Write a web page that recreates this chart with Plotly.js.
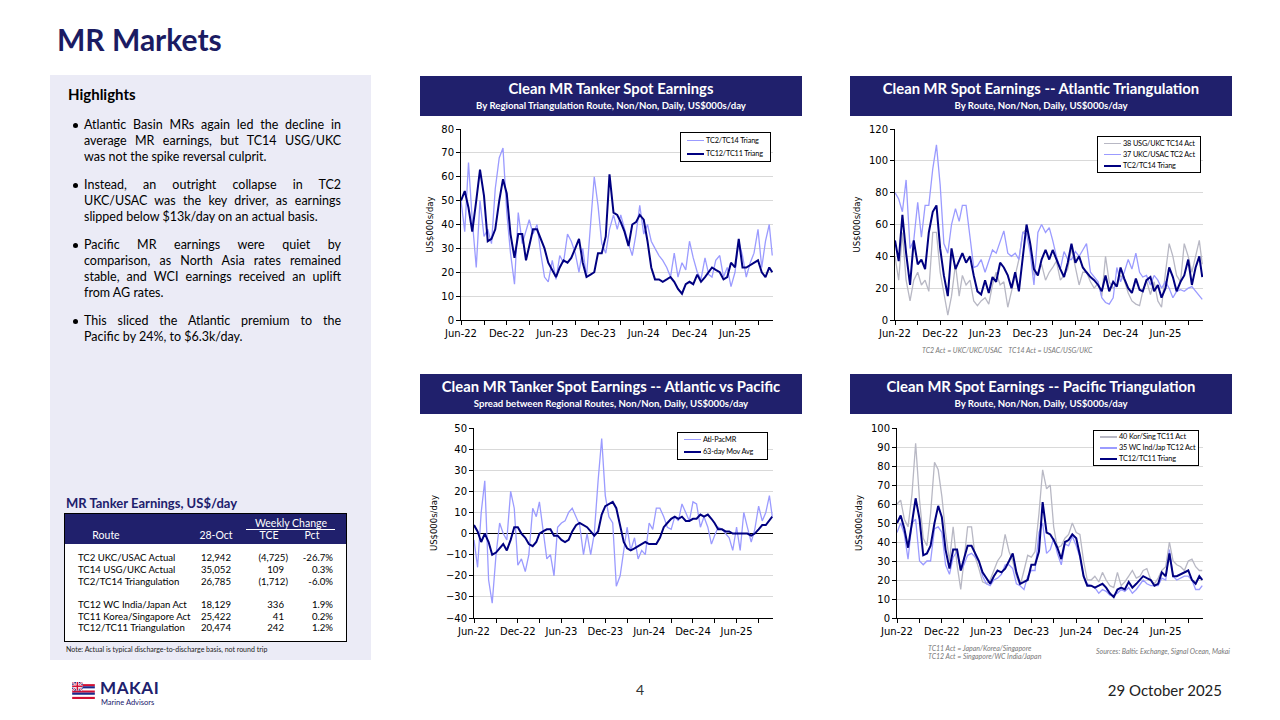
<!DOCTYPE html>
<html><head><meta charset="utf-8">
<script src="https://cdn.plot.ly/plotly-3.0.1.min.js"></script>
<style>
body{margin:0;width:1280px;height:720px;position:relative;background:#fff;font-family:Lato,"Noto Sans",sans-serif;overflow:hidden;color:#000}
.abs{position:absolute;white-space:nowrap}
.band{position:absolute;background:#20206c;color:#fff;text-align:center;font-weight:bold;height:40px;width:382px}
.band .t{font-size:14.8px;line-height:18px;margin-top:3px}
.band .s{font-size:9.6px;line-height:12px;margin-top:3px}
#panel{position:absolute;left:50px;top:75px;width:321px;height:585px;background:#ebebf6}
#bul{position:absolute;left:84px;top:117px;width:257px;font-size:12.5px;line-height:16px}
#bul .p{position:relative;margin-bottom:12px}
#bul .p:before{content:"";position:absolute;left:-11px;top:6px;width:5px;height:5px;border-radius:50%;background:#000}
#bul .l{text-align:justify;text-align-last:justify;white-space:nowrap}
#bul .l.last{text-align-last:left}
#tbl{position:absolute;left:64px;top:513px;width:281px;height:127px;border:1px solid #000;background:#fff;font-size:9.6px}
#tbl .hd{position:absolute;left:0;top:0;width:281px;height:30px;background:#20206c}
#tbl .c{position:absolute;line-height:12px;white-space:nowrap}
.fn{position:absolute;font-style:italic;font-size:7px;color:#777;white-space:nowrap;line-height:8px}
.chart{position:absolute}
.lg{position:absolute;background:#fff;border:1px solid #000;box-sizing:border-box;z-index:5;font-size:7.3px;letter-spacing:-0.15px}
.lg .sw{position:absolute;left:6px;width:17px}
.lg .tx{position:absolute;left:25px;line-height:10px;white-space:nowrap}
</style></head>
<body>
<div class="abs" style="left:57px;top:21px;font-size:30px;font-weight:bold;color:#1b1b62;line-height:36px">MR Markets</div>

<div id="panel"></div>
<div class="abs" style="left:68px;top:85px;font-size:15px;font-weight:bold;line-height:18px">Highlights</div>
<div id="bul"></div>

<div class="abs" style="left:66px;top:495px;font-size:13px;font-weight:bold;color:#20206c;line-height:16px">MR Tanker Earnings, US$/day</div>
<div id="tbl"><div class="hd"></div></div>
<div class="abs" style="left:66px;top:645px;font-size:7px;color:#222;line-height:8px">Note: Actual is typical discharge-to-discharge basis, not round trip</div>

<div class="band" style="left:420px;top:76px"><div class="t">Clean MR Tanker Spot Earnings</div><div class="s">By Regional Triangulation Route, Non/Non, Daily, US$000s/day</div></div>
<div class="band" style="left:850px;top:76px"><div class="t">Clean MR Spot Earnings -- Atlantic Triangulation</div><div class="s">By Route, Non/Non, Daily, US$000s/day</div></div>
<div class="band" style="left:420px;top:374px"><div class="t">Clean MR Tanker Spot Earnings -- Atlantic vs Pacific</div><div class="s">Spread between Regional Routes, Non/Non, Daily, US$000s/day</div></div>
<div class="band" style="left:850px;top:374px"><div class="t">Clean MR Spot Earnings -- Pacific Triangulation</div><div class="s">By Route, Non/Non, Daily, US$000s/day</div></div>

<div id="c1" class="chart" style="left:420px;top:118px"></div>
<div id="c2" class="chart" style="left:850px;top:118px"></div>
<div id="c3" class="chart" style="left:420px;top:416px"></div>
<div id="c4" class="chart" style="left:850px;top:416px"></div>

<div class="fn" style="left:922px;top:346px">TC2 Act = UKC/UKC/USAC&nbsp;&nbsp;&nbsp;&nbsp;TC14 Act = USAC/USG/UKC</div>
<div class="fn" style="left:928px;top:644px">TC11 Act = Japan/Korea/Singapore</div>
<div class="fn" style="left:928px;top:652px">TC12 Act = Singapore/WC India/Japan</div>
<div class="fn" style="left:1096px;top:647px">Sources: Baltic Exchange, Signal Ocean, Makai</div>

<svg class="abs" style="left:72px;top:682px" width="23" height="17" viewBox="0 0 24 18">
  <rect x="0" y="0" width="24" height="18" fill="#fff"/>
  <rect x="0" y="2.25" width="24" height="2.25" fill="#d21034"/>
  <rect x="0" y="4.5" width="24" height="2.25" fill="#1b2a8a"/>
  <rect x="0" y="9" width="24" height="2.25" fill="#d21034"/>
  <rect x="0" y="11.25" width="24" height="2.25" fill="#1b2a8a"/>
  <rect x="0" y="15.75" width="24" height="2.25" fill="#d21034"/>
  <rect x="0" y="0" width="11" height="9" fill="#1b2a8a"/>
  <path d="M0 0L11 9M11 0L0 9" stroke="#fff" stroke-width="2"/>
  <path d="M0 0L11 9M11 0L0 9" stroke="#d21034" stroke-width="0.8"/>
  <path d="M5.5 0V9M0 4.5H11" stroke="#fff" stroke-width="3"/>
  <path d="M5.5 0V9M0 4.5H11" stroke="#d21034" stroke-width="1.6"/>
</svg>
<div class="abs" style="left:100px;top:679px;font-size:17px;font-weight:bold;color:#20206c;line-height:17px;letter-spacing:0.6px">MAKAI</div>
<div class="abs" style="left:101px;top:699px;font-size:7.5px;color:#20206c;line-height:8px">Marine Advisors</div>
<div class="abs" style="left:636px;top:681px;font-size:14px;color:#333;line-height:18px">4</div>
<div class="abs" style="right:58px;top:681px;font-size:15px;color:#222;line-height:19px">29 October 2025</div>

<script>
// ---------- text content ----------
const bullets = [
  ["Atlantic Basin MRs again led the decline in", "average MR earnings, but TC14 USG/UKC", "was not the spike reversal culprit."],
  ["Instead, an outright collapse in TC2", "UKC/USAC was the key driver, as earnings", "slipped below $13k/day on an actual basis."],
  ["Pacific MR earnings were quiet by", "comparison, as North Asia rates remained", "stable, and WCI earnings received an uplift", "from AG rates."],
  ["This sliced the Atlantic premium to the", "Pacific by 24%, to $6.3k/day."]
];

// ---------- table data ----------
const tblRoutes = ["TC2 UKC/USAC Actual","TC14 USG/UKC Actual","TC2/TC14 Triangulation","TC12 WC India/Japan Act","TC11 Korea/Singapore Act","TC12/TC11 Triangulation"];
const tbl28Oct  = ["12,942","35,052","26,785","18,129","25,422","20,474"];
const tblTCE    = ["(4,725)","109","(1,712)","336","41","242"];
const tblPct    = ["-26.7%","0.3%","-6.0%","1.9%","0.2%","1.2%"];

// ---------- chart data (semi-monthly readings, Jun-22 .. 28-Oct-25) ----------
const dates = [];
for (let y = 2022; y <= 2025; y++) {
  for (let m = 1; m <= 12; m++) {
    if ((y === 2022 && m < 6) || (y === 2025 && m > 10)) continue;
    const mm = String(m).padStart(2, '0');
    dates.push(y + '-' + mm + '-01', y + '-' + mm + '-16');
  }
}
dates.push('2025-10-28');

const tc2tc14Triang = [50,37,66,42,22,50,35,38,32,55, 68,72,45,28,15,45,32,38,42,36, 40,28,18,16,25,17,27,24,36,33, 28,20,30,18,40,60,48,32,28,38, 44,38,44,38,32,27,36,48,36,40, 33,30,27,25,22,18,28,18,24,21, 33,26,20,17,26,19,18,25,27,18, 22,14,20,33,27,18,24,28,38,22, 33,40,27];
const tc12tc11Triang = [50,54,47,37,50,63,52,33,34,38, 50,59,53,36,26,36,36,25,31,38, 38,34,30,24,21,18,22,25,24,26, 30,34,24,18,19,20,28,28,35,61, 45,44,41,37,31,40,41,44,42,33, 22,17,17,16,17,18,16,13,11,15, 16,15,19,16,18,20,22,21,20,17, 18,24,22,34,22,22,23,24,25,20, 18,22,20];
const tc14Act = [40,25,55,25,12,25,30,22,25,18, 55,55,30,18,3,15,35,15,28,22, 25,12,9,12,14,10,22,30,22,24, 8,18,28,38,55,57,48,28,30,35, 25,30,33,37,25,28,32,45,33,22, 30,30,24,20,23,15,40,24,20,22, 28,25,17,12,10,9,18,25,16,24, 12,8,30,48,40,28,24,48,40,30, 40,50,35];
const tc2Act = [80,76,68,88,45,50,74,52,72,72, 95,110,85,48,42,60,70,62,72,72, 52,33,34,38,30,37,44,42,50,56, 42,40,42,38,55,54,42,22,55,60, 55,58,50,40,32,43,38,38,43,40, 44,48,30,27,24,14,11,10,14,33, 24,30,38,32,42,30,27,28,22,28, 25,20,24,20,14,18,19,18,20,21, 18,15,13];
const atlPac = [-3,-16,10,25,-22,-33,-10,5,0,-3, 20,12,-15,-12,-18,-10,12,8,15,3, -12,-10,-20,3,5,6,10,12,8,4, -10,0,-10,0,25,45,18,8,5,-25, -20,-8,3,-8,-2,-12,-8,-10,5,2, 12,12,8,3,2,8,6,14,10,6, 15,14,3,8,3,-5,-1,3,2,0, -2,-8,3,-8,10,3,-4,2,13,6, 10,18,8];
const movAvg63 = [4,1,-4,0,-4,-10,-9,-7,-5,-8, -3,3,3,0,-2,-5,-6,-4,0,1, 2,2,-1,-1,-3,-4,-3,1,4,5, 4,3,1,-1,1,9,13,14,15,12, 4,-4,-7,-8,-7,-6,-5,-4,-5,-5, -5,-2,3,5,7,8,7,8,6,6, 7,7,9,8,9,7,5,2,2,1, 1,0,0,0,0,0,-1,0,2,4, 4,6,8];
const tc11Act = [60,62,52,48,65,92,62,42,38,55, 82,78,64,45,30,48,28,15,30,48, 48,32,26,19,18,20,25,30,33,44, 35,30,22,17,25,33,32,35,55,78, 68,70,48,37,38,42,44,50,45,44, 30,20,20,22,19,24,20,17,16,24, 17,19,22,25,21,22,25,26,20,18, 21,25,27,40,30,28,27,25,30,31, 27,25,25];
const tc12Act = [45,50,44,31,50,52,30,28,30,30, 47,48,45,28,23,32,35,25,28,33, 34,32,30,22,18,17,20,21,23,28, 28,26,18,17,15,22,25,25,45,50, 34,36,42,34,28,39,38,43,38,32, 22,18,17,16,13,15,14,12,12,13, 15,14,16,13,15,18,20,18,17,17, 17,21,20,36,22,20,21,22,22,20, 15,15,17];

// ---------- build text blocks ----------
const bul = document.getElementById('bul');
bullets.forEach(lines => {
  const p = document.createElement('div'); p.className = 'p';
  lines.forEach((t, i) => {
    const l = document.createElement('div');
    l.className = 'l' + (i === lines.length - 1 ? ' last' : '');
    l.textContent = t; p.appendChild(l);
  });
  bul.appendChild(p);
});

const tbl = document.getElementById('tbl');
function cell(txt, style) {
  const d = document.createElement('div'); d.className = 'c'; d.textContent = txt;
  Object.assign(d.style, style); tbl.appendChild(d); return d;
}
const W = 'translateX(-50%)';
cell('Weekly Change', {left:'226px', top:'3px', transform:W, color:'#fff', fontSize:'10.5px'});
const ul = document.createElement('div');
Object.assign(ul.style, {position:'absolute', left:'181px', top:'15px', width:'89px', height:'1px', background:'#fff'});
tbl.appendChild(ul);
cell('Route', {left:'41px', top:'15px', transform:W, color:'#fff', fontSize:'10.5px'});
cell('28-Oct', {left:'151px', top:'15px', transform:W, color:'#fff', fontSize:'10.5px'});
cell('TCE', {left:'204px', top:'15px', transform:W, color:'#fff', fontSize:'10.5px'});
cell('Pct', {left:'247px', top:'15px', transform:W, color:'#fff', fontSize:'10.5px'});
const rowTops = [38, 50, 62, 85, 97, 108];
tblRoutes.forEach((r, i) => {
  const t = rowTops[i] + 'px';
  cell(r, {left:'13px', top:t});
  cell(tbl28Oct[i], {right:(281-166)+'px', top:t});
  const neg = tblTCE[i].charAt(0) === '(';
  cell(tblTCE[i], {right:(281-223 + (neg ? 0 : 4))+'px', top:t});
  cell(tblPct[i], {right:(281-268)+'px', top:t});
});

// ---------- charts ----------
const LIGHT = '#9b9bff', NAVY = '#000080', GRAY = '#b8b8c4';
const tickFont = {family:'DejaVu Sans, Verdana, sans-serif', size:10, color:'#000'};
function xAxis() {
  return {type:'date', range:['2022-06-01','2025-10-31'], tick0:'2022-06-01', dtick:'M3', ticklabelstep:2,
    tickformat:'%b-%y', ticks:'outside', ticklen:4, tickcolor:'#000', showline:true, linecolor:'#000', linewidth:1,
    showgrid:false, zeroline:false, tickfont:tickFont, fixedrange:true};
}
function yAxis(range, dtick, zl) {
  return {range:range, dtick:dtick, tick0:0, ticks:'outside', ticklen:4, tickcolor:'#000', showline:true, linecolor:'#000',
    showgrid:true, gridcolor:'#d9d9d9', gridwidth:1, zeroline:!!zl, zerolinecolor:'#000', zerolinewidth:1,
    tickfont:tickFont, fixedrange:true,
    title:{text:'US$000s/day', font:{family:'DejaVu Sans, Verdana, sans-serif', size:8.5, color:'#000'}, standoff:6}};
}
function line(y, name, color, width) {
  return {x:dates, y:y, name:name, type:'scatter', mode:'lines', line:{color:color, width:width}};
}
// legend drawn as an HTML box from the trace names/colours
function legendBox(traces, left, top, width, rowH, padTop) {
  const box = document.createElement('div'); box.className = 'lg';
  Object.assign(box.style, {left:left+'px', top:top+'px', width:width+'px', height:(traces.length*rowH + padTop*2 + 2)+'px'});
  traces.forEach((tr, i) => {
    const cy = padTop + rowH*i + rowH/2;
    const sw = document.createElement('div'); sw.className = 'sw';
    Object.assign(sw.style, {top:(cy - tr.line.width/2)+'px', height:tr.line.width+'px', background:tr.line.color});
    const tx = document.createElement('div'); tx.className = 'tx'; tx.textContent = tr.name;
    tx.style.top = (cy - 5) + 'px';
    box.appendChild(sw); box.appendChild(tx);
  });
  document.body.appendChild(box);
}
const cfg = {displayModeBar:false, staticPlot:true};
function base(m) {
  return {width:356, height:240, margin:m, paper_bgcolor:'rgba(0,0,0,0)', plot_bgcolor:'#fff',
    showlegend:false, font:{family:'DejaVu Sans, sans-serif'}};
}

const t1 = [line(tc2tc14Triang, 'TC2/TC14 Triang', LIGHT, 1.3), line(tc12tc11Triang, 'TC12/TC11 Triang', NAVY, 2)];
Plotly.newPlot('c1', t1, Object.assign(base({l:41,r:3,t:11,b:38}), {xaxis:xAxis(), yaxis:yAxis([0,80],10)}), cfg);
legendBox(t1, 680, 132, 91, 13, 1);

const t2 = [line(tc14Act, '38 USG/UKC TC14 Act', GRAY, 1.3), line(tc2Act, '37 UKC/USAC TC2 Act', LIGHT, 1.3), line(tc2tc14Triang, 'TC2/TC14 Triang', NAVY, 2)];
Plotly.newPlot('c2', t2, Object.assign(base({l:45,r:3,t:11,b:38}), {xaxis:xAxis(), yaxis:yAxis([0,120],20)}), cfg);
legendBox(t2, 1097, 136, 104, 11, 1);

const t3 = [line(atlPac, 'Atl-PacMR', LIGHT, 1.3), line(movAvg63, '63-day Mov Avg', NAVY, 2)];
Plotly.newPlot('c3', t3, Object.assign(base({l:54,r:3,t:12,b:38}), {xaxis:xAxis(), yaxis:yAxis([-40,50],10,true)}), cfg);
legendBox(t3, 677, 432, 91, 12.5, 0.5);

const t4 = [line(tc11Act, '40 Kor/Sing TC11 Act', GRAY, 1.3), line(tc12Act, '35 WC Ind/Jap TC12 Act', LIGHT, 1.3), line(tc12tc11Triang, 'TC12/TC11 Triang', NAVY, 2)];
Plotly.newPlot('c4', t4, Object.assign(base({l:47,r:3,t:12,b:38}), {xaxis:xAxis(), yaxis:yAxis([0,100],10)}), cfg);
legendBox(t4, 1093, 430, 106, 11, 0.5);
</script>
</body></html>
